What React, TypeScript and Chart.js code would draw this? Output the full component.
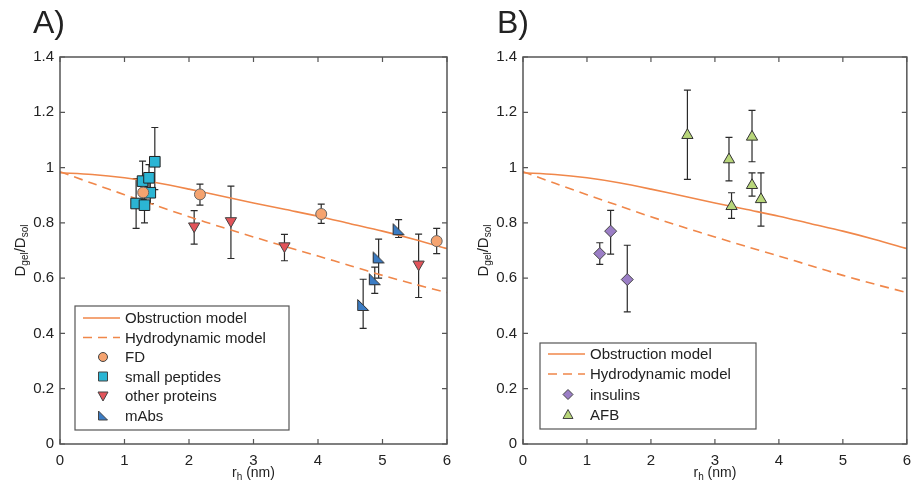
import React, { useEffect, useRef } from "react";
import { Chart, registerables } from "chart.js";
Chart.register(...registerables);

const FONT = "'Liberation Sans', Arial, Helvetica, sans-serif";

// model curves
const modelX = [0, 0.5, 1, 1.5, 2, 2.5, 3, 3.5, 4, 4.5, 5, 5.5, 6];
const obstructionY = [0.981, 0.975, 0.963, 0.945, 0.922, 0.897, 0.872, 0.848, 0.824, 0.797, 0.77, 0.74, 0.707];
const hydrodynamicY = [0.985, 0.943, 0.902, 0.862, 0.822, 0.785, 0.749, 0.714, 0.68, 0.645, 0.61, 0.578, 0.548];

// panel A
const fdX = [1.29, 2.17, 4.05, 5.84];
const fdY = [0.91, 0.903, 0.832, 0.734];
const fdLo = [0.885, 0.864, 0.798, 0.689];
const fdHi = [0.935, 0.94, 0.868, 0.78];

const pepX = [1.18, 1.28, 1.31, 1.38, 1.4, 1.47];
const pepY = [0.87, 0.951, 0.864, 0.963, 0.909, 1.021];
const pepLo = [0.78, 0.88, 0.8, 0.91, 0.87, 0.92];
const pepHi = [0.96, 1.023, 0.93, 1.011, 0.95, 1.145];

const opX = [2.08, 2.65, 3.48, 5.56];
const opY = [0.788, 0.807, 0.716, 0.65];
const opLo = [0.723, 0.671, 0.663, 0.53];
const opHi = [0.844, 0.933, 0.758, 0.759];

const mabX = [4.7, 4.88, 4.94, 5.25];
const mabY = [0.503, 0.596, 0.675, 0.777];
const mabLo = [0.418, 0.545, 0.6, 0.747];
const mabHi = [0.596, 0.64, 0.741, 0.812];

// panel B
const insX = [1.2, 1.37, 1.63];
const insY = [0.689, 0.77, 0.595];
const insLo = [0.65, 0.687, 0.478];
const insHi = [0.728, 0.845, 0.719];

const afbX = [2.57, 3.22, 3.26, 3.58, 3.58, 3.72];
const afbY = [1.117, 1.029, 0.86, 1.111, 0.936, 0.885];
const afbLo = [0.957, 0.952, 0.816, 1.021, 0.897, 0.788];
const afbHi = [1.28, 1.109, 0.909, 1.207, 0.981, 0.981];

const xTicks = [0, 1, 2, 3, 4, 5, 6];
const yTicks = [0, 0.2, 0.4, 0.6, 0.8, 1, 1.2, 1.4];

const LINE_COLOR = "#f0874a";
const C_FD = "#f5a36f";
const C_PEP = "#2bb5d4";
const C_OP = "#e2545a";
const C_MAB = "#3b7cc4";
const C_INS = "#9b7ec6";
const C_AFB = "#b8d67a";

function pts(xs: number[], ys: number[]) {
  return xs.map((x, i) => ({ x, y: ys[i] }));
}

function cornerTriangle(fill: string) {
  const c = document.createElement("canvas");
  c.width = 14;
  c.height = 14;
  const g = c.getContext("2d")!;
  g.beginPath();
  g.moveTo(1.5, 1.5);
  g.lineTo(1.5, 12.5);
  g.lineTo(12.5, 12.5);
  g.closePath();
  g.fillStyle = fill;
  g.fill();
  g.strokeStyle = "#333";
  g.lineWidth = 1;
  g.stroke();
  return c;
}

function drawMarker(ctx: CanvasRenderingContext2D, kind: string, x: number, y: number, fill: string) {
  ctx.save();
  ctx.fillStyle = fill;
  ctx.strokeStyle = "#444";
  ctx.lineWidth = 1;
  ctx.beginPath();
  switch (kind) {
    case "circle":
      ctx.arc(x, y, 4.5, 0, Math.PI * 2);
      break;
    case "square":
      ctx.rect(x - 4.5, y - 4.5, 9, 9);
      break;
    case "tri-down":
      ctx.moveTo(x - 5, y - 4);
      ctx.lineTo(x + 5, y - 4);
      ctx.lineTo(x, y + 5);
      ctx.closePath();
      break;
    case "tri-up":
      ctx.moveTo(x - 5, y + 4);
      ctx.lineTo(x + 5, y + 4);
      ctx.lineTo(x, y - 5);
      ctx.closePath();
      break;
    case "corner":
      ctx.moveTo(x - 4.5, y - 4.5);
      ctx.lineTo(x - 4.5, y + 4.5);
      ctx.lineTo(x + 4.5, y + 4.5);
      ctx.closePath();
      break;
    case "diamond":
      ctx.moveTo(x, y - 5);
      ctx.lineTo(x + 5, y);
      ctx.lineTo(x, y + 5);
      ctx.lineTo(x - 5, y);
      ctx.closePath();
      break;
  }
  ctx.fill();
  ctx.stroke();
  ctx.restore();
}

type Row = { kind: string; fill?: string; label: string };

interface PanelProps {
  left: number;
  width: number;
  axisWidth: number;
  padRight: number;
  panelLabel: string;
  labelX: number;
  titleX: number;
  legendBox: { l: number; t: number; r: number; b: number };
  legendRows: Row[];
  rowY: number[];
  scatter: any[];
}

function Panel(p: PanelProps) {
  const ref = useRef<HTMLCanvasElement>(null);
  useEffect(() => {
    const canvas = ref.current!;
    const datasets: any[] = [
      ...p.scatter,
      {
        type: "line",
        label: "Obstruction model",
        data: pts(modelX, obstructionY),
        borderColor: LINE_COLOR,
        borderWidth: 1.6,
        pointRadius: 0,
        showLine: true,
        tension: 0.3,
      },
      {
        type: "line",
        label: "Hydrodynamic model",
        data: pts(modelX, hydrodynamicY),
        borderColor: LINE_COLOR,
        borderWidth: 1.6,
        borderDash: [9, 6],
        pointRadius: 0,
        showLine: true,
        tension: 0.3,
      },
    ];

    const deco = {
      id: "deco",
      beforeDatasetsDraw(chart: any) {
        const ctx = chart.ctx;
        const xs = chart.scales.x;
        const ys = chart.scales.y;
        ctx.save();
        ctx.strokeStyle = "#2a2a2a";
        ctx.lineWidth = 1.2;
        chart.data.datasets.forEach((ds: any) => {
          if (!ds.errLo) return;
          ds.data.forEach((pt: any, i: number) => {
            const px = xs.getPixelForValue(pt.x);
            const lo = ys.getPixelForValue(ds.errLo[i]);
            const hi = ys.getPixelForValue(ds.errHi[i]);
            ctx.beginPath();
            ctx.moveTo(px, lo);
            ctx.lineTo(px, hi);
            ctx.moveTo(px - 3.5, lo);
            ctx.lineTo(px + 3.5, lo);
            ctx.moveTo(px - 3.5, hi);
            ctx.lineTo(px + 3.5, hi);
            ctx.stroke();
          });
        });
        ctx.restore();
      },
      afterDraw(chart: any) {
        const ctx: CanvasRenderingContext2D = chart.ctx;
        const a = chart.chartArea;
        const xs = chart.scales.x;
        const ys = chart.scales.y;
        ctx.save();
        // box
        ctx.strokeStyle = "#555";
        ctx.lineWidth = 1.5;
        ctx.strokeRect(a.left, a.top, a.right - a.left, a.bottom - a.top);
        // inward ticks
        ctx.lineWidth = 1.2;
        ctx.beginPath();
        xTicks.forEach((v) => {
          const px = xs.getPixelForValue(v);
          ctx.moveTo(px, a.bottom);
          ctx.lineTo(px, a.bottom - 5);
          ctx.moveTo(px, a.top);
          ctx.lineTo(px, a.top + 5);
        });
        yTicks.forEach((v) => {
          const py = ys.getPixelForValue(v);
          ctx.moveTo(a.left, py);
          ctx.lineTo(a.left + 5, py);
          ctx.moveTo(a.right, py);
          ctx.lineTo(a.right - 5, py);
        });
        ctx.stroke();

        // legend
        const lb = p.legendBox;
        ctx.fillStyle = "#fff";
        ctx.fillRect(lb.l, lb.t, lb.r - lb.l, lb.b - lb.t);
        ctx.strokeStyle = "#555";
        ctx.lineWidth = 1.2;
        ctx.strokeRect(lb.l, lb.t, lb.r - lb.l, lb.b - lb.t);
        ctx.font = `15px ${FONT}`;
        ctx.textBaseline = "middle";
        ctx.textAlign = "left";
        p.legendRows.forEach((r, i) => {
          const y = p.rowY[i];
          if (r.kind === "solid" || r.kind === "dash") {
            ctx.save();
            ctx.strokeStyle = LINE_COLOR;
            ctx.lineWidth = 1.6;
            if (r.kind === "dash") ctx.setLineDash([9, 6]);
            ctx.beginPath();
            ctx.moveTo(lb.l + 8, y);
            ctx.lineTo(lb.l + 45, y);
            ctx.stroke();
            ctx.restore();
          } else {
            drawMarker(ctx, r.kind, lb.l + 28, y, r.fill!);
          }
          ctx.fillStyle = "#222";
          ctx.fillText(r.label, lb.l + 50, y + 1);
        });

        // panel label
        ctx.fillStyle = "#222";
        ctx.font = `32px ${FONT}`;
        ctx.textBaseline = "alphabetic";
        ctx.fillText(p.panelLabel, p.labelX, 33);

        // x title  r_h (nm)
        const cx = (a.left + a.right) / 2;
        ctx.font = `14px ${FONT}`;
        const w1 = ctx.measureText("r").width;
        const w3 = ctx.measureText(" (nm)").width;
        ctx.font = `10px ${FONT}`;
        const w2 = ctx.measureText("h").width;
        let x0 = cx - (w1 + w2 + w3) / 2;
        const by = 477;
        ctx.font = `14px ${FONT}`;
        ctx.fillText("r", x0, by);
        ctx.font = `10px ${FONT}`;
        ctx.fillText("h", x0 + w1, by + 3);
        ctx.font = `14px ${FONT}`;
        ctx.fillText(" (nm)", x0 + w1 + w2, by);

        // y title  D_gel/D_sol
        const cy = (a.top + a.bottom) / 2;
        ctx.save();
        ctx.translate(p.titleX, cy);
        ctx.rotate(-Math.PI / 2);
        const parts: [string, boolean][] = [
          ["D", false],
          ["gel", true],
          ["/D", false],
          ["sol", true],
        ];
        let tot = 0;
        const widths = parts.map(([s, sub]) => {
          ctx.font = `${sub ? 10 : 15}px ${FONT}`;
          const w = ctx.measureText(s).width;
          tot += w;
          return w;
        });
        let xx = -tot / 2;
        parts.forEach(([s, sub], i) => {
          ctx.font = `${sub ? 10 : 15}px ${FONT}`;
          ctx.fillText(s, xx, sub ? 3 : 0);
          xx += widths[i];
        });
        ctx.restore();
        ctx.restore();
      },
    };

    const chart = new Chart(canvas, {
      type: "scatter",
      data: { datasets },
      options: {
        animation: false,
        responsive: false,
        devicePixelRatio: 1,
        layout: { padding: { left: 0, top: 57, right: p.padRight, bottom: 0 } },
        plugins: { legend: { display: false }, tooltip: { enabled: false } },
        scales: {
          x: {
            type: "linear",
            min: 0,
            max: 6,
            afterBuildTicks: (s: any) => {
              s.ticks = xTicks.map((v) => ({ value: v }));
            },
            ticks: {
              color: "#222",
              font: { family: FONT, size: 15 },
              padding: 8,
              maxRotation: 0,
              callback: (v: any) => String(v),
            },
            grid: { display: false, drawTicks: false },
            border: { display: false },
            afterFit: (s: any) => {
              s.height = 45;
            },
          },
          y: {
            type: "linear",
            min: 0,
            max: 1.4,
            afterBuildTicks: (s: any) => {
              s.ticks = yTicks.map((v) => ({ value: v }));
            },
            ticks: {
              color: "#222",
              font: { family: FONT, size: 15 },
              padding: 6,
              callback: (v: any) => String(Number(Number(v).toFixed(1))),
            },
            grid: { display: false, drawTicks: false },
            border: { display: false },
            afterFit: (s: any) => {
              s.width = p.axisWidth;
            },
          },
        },
      } as any,
      plugins: [deco as any],
    });
    return () => chart.destroy();
  }, []);
  return (
    <canvas
      ref={ref}
      width={p.width}
      height={489}
      style={{ position: "absolute", left: p.left, top: 0, width: p.width, height: 489 }}
    />
  );
}

function errSet(label: string, xs: number[], ys: number[], lo: number[], hi: number[], style: any) {
  return {
    type: "scatter",
    label,
    data: pts(xs, ys),
    errLo: lo,
    errHi: hi,
    showLine: false,
    borderColor: "#333",
    borderWidth: 1,
    ...style,
  };
}

export default function App() {
  const mabStyle = typeof document !== "undefined" ? cornerTriangle(C_MAB) : "triangle";
  const scatterA = [
    errSet("FD", fdX, fdY, fdLo, fdHi, { pointStyle: "circle", pointRadius: 5.5, backgroundColor: C_FD, borderColor: "#666" }),
    errSet("small peptides", pepX, pepY, pepLo, pepHi, { pointStyle: "rect", pointRadius: 7.5, backgroundColor: C_PEP, borderColor: "#222" }),
    errSet("other proteins", opX, opY, opLo, opHi, { pointStyle: "triangle", rotation: 180, pointRadius: 6.5, backgroundColor: C_OP, borderColor: "#444" }),
    errSet("mAbs", mabX, mabY, mabLo, mabHi, { pointStyle: mabStyle, pointRadius: 7, backgroundColor: C_MAB }),
  ];
  const scatterB = [
    errSet("insulins", insX, insY, insLo, insHi, { pointStyle: "rectRot", pointRadius: 6, backgroundColor: C_INS, borderColor: "#444" }),
    errSet("AFB", afbX, afbY, afbLo, afbHi, { pointStyle: "triangle", pointRadius: 6.5, backgroundColor: C_AFB, borderColor: "#333" }),
  ];
  return (
    <div style={{ position: "fixed", left: 0, top: 0, width: 919, height: 489, background: "#fff" }}>
      <Panel
        left={0}
        width={460}
        axisWidth={60}
        padRight={13}
        panelLabel="A)"
        labelX={33}
        titleX={25}
        legendBox={{ l: 75, t: 306, r: 289, b: 430 }}
        legendRows={[
          { kind: "solid", label: "Obstruction model" },
          { kind: "dash", label: "Hydrodynamic model" },
          { kind: "circle", fill: C_FD, label: "FD" },
          { kind: "square", fill: C_PEP, label: "small peptides" },
          { kind: "tri-down", fill: C_OP, label: "other proteins" },
          { kind: "corner", fill: C_MAB, label: "mAbs" },
        ]}
        rowY={[318, 337.5, 357, 376.5, 396, 415.5]}
        scatter={scatterA}
      />
      <Panel
        left={460}
        width={459}
        axisWidth={63}
        padRight={7}
        panelLabel="B)"
        labelX={37}
        titleX={28}
        legendBox={{ l: 80, t: 343, r: 296, b: 429 }}
        legendRows={[
          { kind: "solid", label: "Obstruction model" },
          { kind: "dash", label: "Hydrodynamic model" },
          { kind: "diamond", fill: C_INS, label: "insulins" },
          { kind: "tri-up", fill: C_AFB, label: "AFB" },
        ]}
        rowY={[354, 374, 394.5, 414.5]}
        scatter={scatterB}
      />
    </div>
  );
}
